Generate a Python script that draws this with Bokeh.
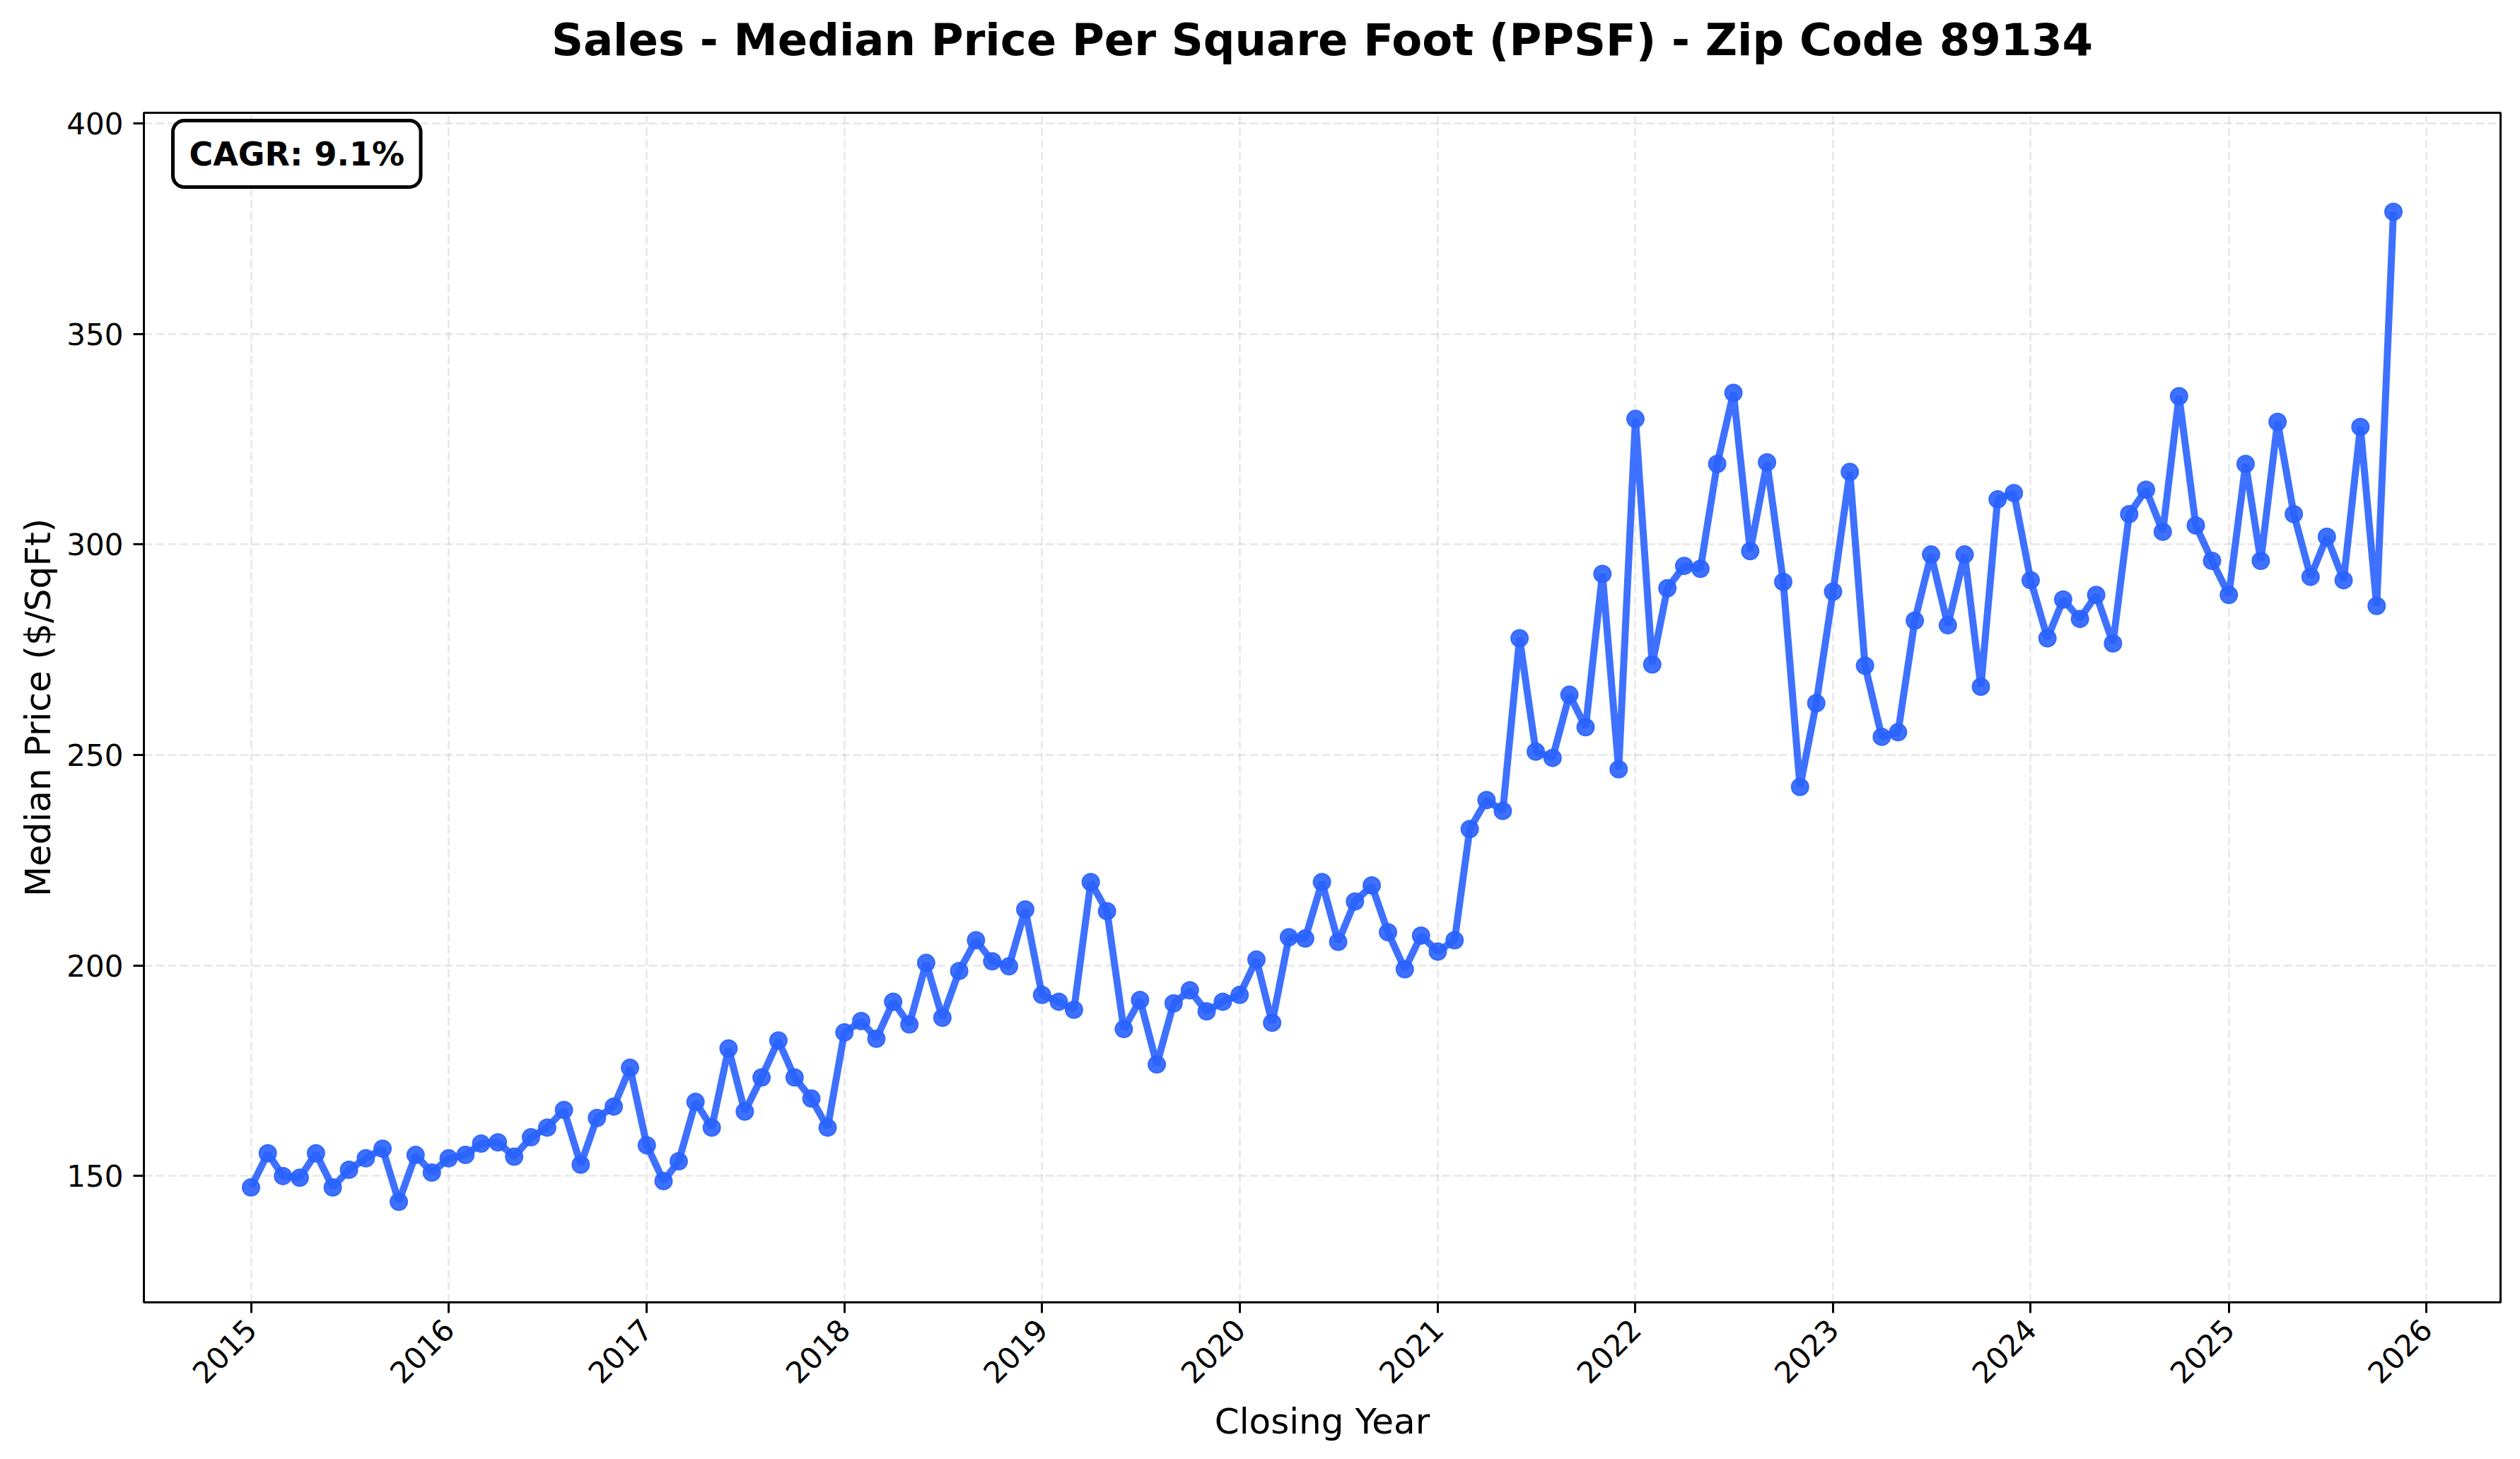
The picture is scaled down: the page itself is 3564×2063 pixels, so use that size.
import math
import pandas as pd
from bokeh.plotting import figure
from bokeh.models import (ColumnDataSource, FixedTicker, DatetimeTickFormatter,
                          Range1d, Label, Title)
from bokeh.embed import file_html
from bokeh.resources import INLINE

# ---------------- data ----------------
title_text = "Sales - Median Price Per Square Foot (PPSF) - Zip Code 89134"
x_label = "Closing Year"
y_label = "Median Price ($/SqFt)"
cagr_text = "CAGR: 9.1%"

first_month = "2015-01-01"
ppsf = [
    # 2015
    147.3, 155.4, 150.0, 149.6, 155.4, 147.3, 151.5, 154.2, 156.5, 143.9, 155.0, 150.8,
    # 2016
    154.2, 155.0, 157.7, 158.0, 154.6, 159.2, 161.5, 165.7, 152.7, 163.8, 166.5, 175.7,
    # 2017
    157.3, 148.8, 153.5, 167.6, 161.5, 180.3, 165.3, 173.4, 182.2, 173.4, 168.4, 161.5,
    # 2018
    184.1, 186.8, 182.6, 191.4, 186.0, 200.6, 187.6, 198.7, 206.0, 201.0, 199.8, 213.3,
    # 2019
    193.0, 191.4, 189.5, 219.8, 212.9, 184.9, 191.8, 176.5, 191.0, 194.1, 189.1, 191.4,
    # 2020
    193.0, 201.4, 186.4, 206.7, 206.4, 219.8, 205.6, 215.2, 219.0, 207.9, 199.1, 207.1,
    # 2021
    203.3, 206.0, 232.4, 239.3, 236.7, 277.7, 250.8, 249.3, 264.3, 256.6, 293.0, 246.6,
    # 2022
    329.8, 271.5, 289.6, 294.9, 294.2, 319.1, 336.0, 298.4, 319.5, 291.1, 242.4, 262.3,
    # 2023
    288.8, 317.2, 271.2, 254.3, 255.4, 281.9, 297.6, 280.8, 297.6, 266.2, 310.7, 312.2,
    # 2024
    291.5, 277.7, 286.9, 282.3, 288.0, 276.5, 307.2, 313.0, 303.0, 335.2, 304.5, 296.1,
    # 2025
    288.0, 319.1, 296.1, 329.1, 307.2, 292.3, 301.8, 291.5, 327.9, 285.4, 379.0,
]
year_ticks = list(range(2015, 2027))
y_ticks = [150, 200, 250, 300, 350, 400]
y_min, y_max = 120, 402.5

# ---------------- build ----------------
months = pd.date_range(first_month, periods=len(ppsf), freq="MS")
src = ColumnDataSource(dict(date=months, ppsf=ppsf))

span = months[-1] - months[0]
x0 = months[0] - 0.05 * span
x1 = months[-1] + 0.05 * span

FONT = "DejaVu Sans"
BLUE = "#2962FF"

W, H = 3548, 2047
BL, BR, BT, BB = 203, 12, 159, 206
frame_w = W - BL - BR
frame_h = H - BT - BB

p = figure(width=W, height=H, x_axis_type="datetime",
           output_backend="svg", toolbar_location=None,
           x_range=Range1d(x0, x1), y_range=Range1d(y_min, y_max),
           min_border_left=BL, min_border_right=BR,
           min_border_top=BT, min_border_bottom=BB)

# spacer panel between frame and title, then the title itself
p.add_layout(Title(text=" ", text_font_size="1px", standoff=56), "above")
p.add_layout(Title(text=title_text, align="center", text_font=FONT,
                   text_font_size="62.5px", text_font_style="bold",
                   text_color="black", standoff=16), "above")

p.outline_line_color = "black"
p.outline_line_width = 3
p.outline_line_alpha = 1.0

xt = FixedTicker(ticks=[pd.Timestamp(f"{y}-01-01").timestamp() * 1000 for y in year_ticks])
yt = FixedTicker(ticks=y_ticks)
p.xaxis.ticker = xt
p.yaxis.ticker = yt
p.xgrid.ticker = xt
p.ygrid.ticker = yt
fmt = "%Y"
p.xaxis.formatter = DatetimeTickFormatter(
    years=fmt, months=fmt, days=fmt, hours=fmt, minutes=fmt, seconds=fmt,
    milliseconds=fmt, microseconds=fmt, hourmin=fmt, minsec=fmt)
p.xaxis.major_label_orientation = math.pi / 4

for ax in (p.xaxis[0], p.yaxis[0]):
    ax.axis_line_color = "black"
    ax.axis_line_width = 3
    ax.major_tick_line_color = "black"
    ax.major_tick_line_width = 3
    ax.major_tick_out = 15
    ax.major_tick_in = 0
    ax.minor_tick_out = 0
    ax.minor_tick_in = 0
    ax.major_label_text_font = FONT
    ax.major_label_text_font_size = "42px"
    ax.major_label_text_color = "black"
    ax.axis_label_text_font = FONT
    ax.axis_label_text_font_size = "50px"
    ax.axis_label_text_font_style = "normal"
    ax.axis_label_text_color = "black"

p.xaxis.axis_label = x_label
p.yaxis.axis_label = y_label
p.xaxis.major_label_standoff = 16
p.yaxis.major_label_standoff = 14
p.xaxis.axis_label_standoff = 8
p.yaxis.axis_label_standoff = 8

for g in (p.xgrid[0], p.ygrid[0]):
    g.grid_line_color = "#b0b0b0"
    g.grid_line_alpha = 0.3
    g.grid_line_width = 2.5
    g.grid_line_dash = "12 5"

p.line("date", "ppsf", source=src, line_color=BLUE, line_width=10, line_alpha=0.9)
p.scatter("date", "ppsf", source=src, size=24, fill_color=BLUE, line_color=BLUE,
          fill_alpha=0.9, line_alpha=0.9, line_width=2)

cagr = Label(x=41, y=frame_h - 11, x_units="screen", y_units="screen", text=cagr_text,
             anchor="top_left",
             text_font=FONT, text_font_size="46px", text_font_style="bold",
             text_color="black",
             border_line_color="black", border_line_width=5,
             background_fill_color="white", border_radius=16, padding=(23, 20))
p.add_layout(cagr)

open("out.html", "w").write(file_html(p, INLINE))
